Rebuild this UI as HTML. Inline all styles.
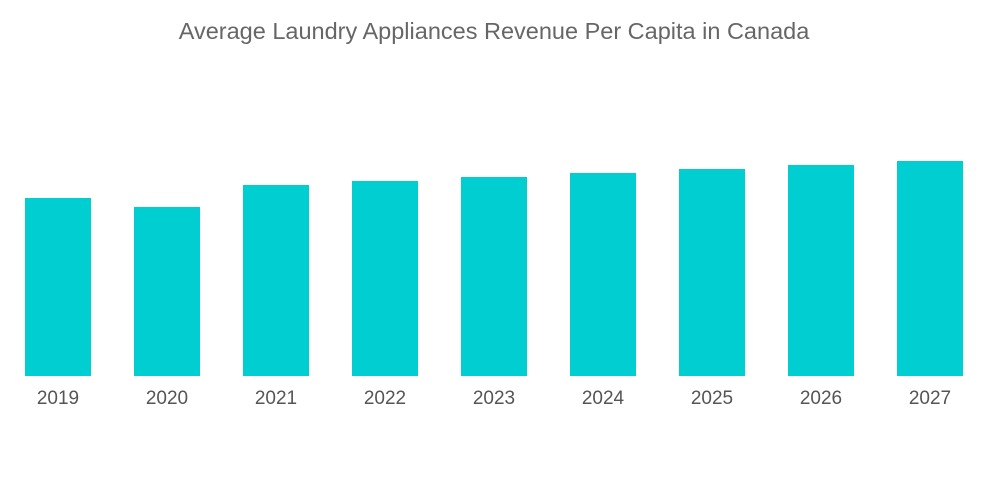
<!DOCTYPE html>
<html><head><meta charset="utf-8"><style>
body{margin:0;background:#fff;}
svg{display:block;font-family:"Liberation Sans",sans-serif;}
</style></head><body>
<svg id="chart" width="1000" height="504">
<text x="494" y="39" text-anchor="middle" font-size="23.5" fill="#666">Average Laundry Appliances Revenue Per Capita in Canada</text>
<g id="bars"></g><g id="labels"></g>
</svg>
<script>
const categories=["2019","2020","2021","2022","2023","2024","2025","2026","2027"];
const values=[178,169,191,195,199,203,207,211,215];
const baseY=376, x0=25, step=109, bw=66;
function xScale(i){return x0+i*step;}
function yScale(v){return baseY-v;}
const ns="http://www.w3.org/2000/svg";
const bars=document.getElementById('bars'),labels=document.getElementById('labels');
categories.forEach((c,i)=>{
 const r=document.createElementNS(ns,'rect');
 r.setAttribute('x',xScale(i));r.setAttribute('width',bw);
 r.setAttribute('y',yScale(values[i]));r.setAttribute('height',baseY-yScale(values[i]));
 r.setAttribute('fill','#00ced1');
 
 
 bars.appendChild(r);
 const t=document.createElementNS(ns,'text');
 t.setAttribute('x',xScale(i)+bw/2);t.setAttribute('y',404);
 t.setAttribute('text-anchor','middle');t.setAttribute('font-size','19');t.setAttribute('fill','#555');
 t.textContent=c;
 
 
 labels.appendChild(t);
});
</script>
</body></html>
